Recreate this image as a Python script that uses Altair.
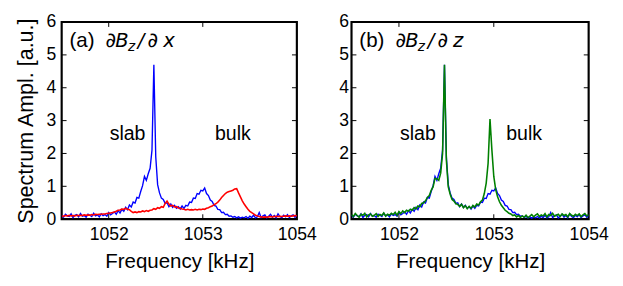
import altair as alt
import pandas as pd

# Frequency sampling grid (kHz), 0.02 kHz step
freq_khz = [round(1051.50 + 0.02 * i, 2) for i in range(126)]

# dBz/dx spectrum (blue) - also shown in panel (b)
blue_dx = [
    0.12, 0.06, 0.15, 0.10, 0.08, 0.16, 0.05, 0.12, 0.14, 0.07,
    0.17, 0.09, 0.11, 0.06, 0.15, 0.12, 0.08, 0.18, 0.10, 0.13,
    0.07, 0.16, 0.11, 0.14, 0.09, 0.20, 0.13, 0.17, 0.22, 0.15,
    0.26, 0.19, 0.30, 0.24, 0.36, 0.29, 0.43, 0.37, 0.52, 0.49,
    0.66, 0.64, 0.84, 1.02, 1.30, 1.18, 1.38, 1.55, 2.10, 4.70,
    1.90, 1.05, 0.80, 0.64, 0.60, 0.48, 0.50, 0.38, 0.46, 0.36,
    0.42, 0.33, 0.38, 0.31, 0.40, 0.33, 0.42, 0.40, 0.52, 0.51,
    0.64, 0.63, 0.78, 0.76, 0.88, 0.86, 0.95, 0.78, 0.72, 0.58,
    0.54, 0.42, 0.40, 0.30, 0.29, 0.20, 0.21, 0.14, 0.15, 0.09,
    0.10, 0.06, 0.08, 0.04, 0.07, 0.03, 0.06, 0.04, 0.08, 0.03,
    0.09, 0.05, 0.12, 0.04, 0.07, 0.20, 0.05, 0.10, 0.13, 0.04,
    0.09, 0.15, 0.06, 0.11, 0.04, 0.16, 0.08, 0.05, 0.12, 0.07,
    0.14, 0.05, 0.10, 0.13, 0.06, 0.11,
]

# second dBz/dx spectrum (red)
red_dx = [
    0.10, 0.09, 0.11, 0.10, 0.12, 0.10, 0.11, 0.10, 0.12, 0.11,
    0.12, 0.11, 0.13, 0.12, 0.13, 0.12, 0.14, 0.13, 0.15, 0.14,
    0.15, 0.15, 0.16, 0.16, 0.17, 0.18, 0.19, 0.20, 0.22, 0.24,
    0.27, 0.28, 0.31, 0.30, 0.33, 0.30, 0.29, 0.24, 0.20, 0.22,
    0.20, 0.23, 0.22, 0.25, 0.23, 0.26, 0.24, 0.27, 0.28, 0.32,
    0.30, 0.35, 0.33, 0.38, 0.36, 0.48, 0.55, 0.46, 0.40, 0.42,
    0.37, 0.38, 0.34, 0.33, 0.31, 0.30, 0.28, 0.30, 0.28, 0.29,
    0.28, 0.30, 0.28, 0.30, 0.29, 0.31, 0.30, 0.33, 0.35, 0.38,
    0.40, 0.44, 0.47, 0.52, 0.58, 0.66, 0.72, 0.78, 0.82, 0.84,
    0.86, 0.88, 0.92, 0.93, 0.80, 0.68, 0.56, 0.46, 0.38, 0.30,
    0.24, 0.20, 0.16, 0.12, 0.10, 0.08, 0.07, 0.06, 0.07, 0.06,
    0.07, 0.08, 0.07, 0.08, 0.09, 0.08, 0.09, 0.08, 0.09, 0.10,
    0.09, 0.10, 0.09, 0.10, 0.11, 0.10,
]

# dBz/dz spectrum (green)
green_dz = [
    0.14, 0.08, 0.17, 0.11, 0.06, 0.15, 0.12, 0.18, 0.07, 0.13,
    0.16, 0.09, 0.12, 0.17, 0.08, 0.14, 0.11, 0.19, 0.09, 0.15,
    0.12, 0.18, 0.14, 0.21, 0.12, 0.23, 0.17, 0.25, 0.20, 0.27,
    0.24, 0.30, 0.27, 0.35, 0.31, 0.40, 0.38, 0.48, 0.50, 0.56,
    0.66, 0.72, 0.88, 0.98, 1.24, 1.23, 1.18, 1.40, 2.00, 4.70,
    1.80, 0.98, 0.76, 0.60, 0.55, 0.47, 0.45, 0.39, 0.45, 0.35,
    0.41, 0.32, 0.39, 0.33, 0.42, 0.37, 0.46, 0.43, 0.53, 0.58,
    0.78, 1.10, 1.70, 3.05, 2.10, 1.30, 0.90, 0.68, 0.53, 0.42,
    0.35, 0.27, 0.23, 0.18, 0.16, 0.11, 0.13, 0.07, 0.11, 0.05,
    0.10, 0.06, 0.12, 0.05, 0.09, 0.14, 0.07, 0.12, 0.16, 0.08,
    0.13, 0.10, 0.17, 0.07, 0.14, 0.11, 0.18, 0.09, 0.12, 0.15,
    0.08, 0.16, 0.11, 0.14, 0.07, 0.17, 0.12, 0.09, 0.15, 0.11,
    0.16, 0.08, 0.13, 0.17, 0.10, 0.14,
]

x_ticks = [1052, 1053, 1054]
y_ticks = [0, 1, 2, 3, 4, 5, 6]
inner_x_ticks = [1052, 1053]
inner_y_ticks = [1, 2, 3, 4, 5]

annot_labels = ["slab", "bulk"]
annot_x = [1052.2, 1053.32]
annot_y = [2.4, 2.4]

FONT = "Liberation Sans"
MATH_FONT = "DejaVu Sans"
X_DOMAIN = [1051.5, 1054]
Y_DOMAIN = [0, 6]
H = 202


def series_df(vals):
    return pd.DataFrame({"f": freq_khz, "a": vals})


def panel(width, first, second, second_color, letter, var, ylabel_pad, show_ytitle):
    xsc = alt.Scale(domain=X_DOMAIN, nice=False, zero=False)
    ysc = alt.Scale(domain=Y_DOMAIN, nice=False)
    xax = alt.Axis(values=x_ticks, format="d", labelPadding=7, labelFlush=False,
                   labelOverlap=False, title="Frequency [kHz]", titlePadding=8,
                   ticks=False, domain=False, grid=False)
    yax = alt.Axis(values=y_ticks, format="d", labelPadding=ylabel_pad,
                   labelOverlap=False, titlePadding=9, titleFontSize=22,
                   ticks=False, domain=False, grid=False,
                   title="Spectrum Ampl. [a.u.]" if show_ytitle else "")

    def X(field):
        return alt.X(field, type="quantitative", scale=xsc, axis=xax)

    def Y(field):
        return alt.Y(field, type="quantitative", scale=ysc, axis=yax)

    base_line = alt.Chart(series_df(first)).mark_line(
        color="#0000ff", strokeWidth=1.4, clip=True
    ).encode(x=X("f"), y=Y("a"))
    top_line = alt.Chart(series_df(second)).mark_line(
        color=second_color, strokeWidth=1.6, clip=True
    ).encode(x=X("f"), y=Y("a"))

    xt = pd.DataFrame({"t": inner_x_ticks})
    yt = pd.DataFrame({"t": inner_y_ticks})
    tick_bottom = alt.Chart(xt).mark_rule(color="black", strokeWidth=1).encode(
        x=X("t"), y=alt.value(H), y2=alt.value(H - 5))
    tick_top = alt.Chart(xt).mark_rule(color="black", strokeWidth=1).encode(
        x=X("t"), y=alt.value(0), y2=alt.value(5))
    tick_left = alt.Chart(yt).mark_rule(color="black", strokeWidth=1).encode(
        y=Y("t"), x=alt.value(0), x2=alt.value(5))
    tick_right = alt.Chart(yt).mark_rule(color="black", strokeWidth=1).encode(
        y=Y("t"), x=alt.value(width - 5), x2=alt.value(width))

    ann = pd.DataFrame({"label": annot_labels, "x": annot_x, "y": annot_y})
    ann_text = alt.Chart(ann).mark_text(
        font=FONT, fontSize=20, color="black", align="center", baseline="alphabetic"
    ).encode(x=X("x"), y=Y("y"), text="label:N")

    # panel label "(a) dBz/dx" composed of pieces
    pieces = [
        (f"({letter})", 8, 26, 21, "normal", FONT),
        ("∂", 45, 26, 21, "italic", MATH_FONT),
        ("B", 55, 26, 20, "italic", MATH_FONT),
        ("z", 68, 30, 14, "italic", MATH_FONT),
        ("/", 78, 26, 20, "italic", MATH_FONT),
        ("∂", 88, 26, 21, "italic", MATH_FONT),
        (var, 104, 26, 20, "italic", MATH_FONT),
    ]
    label_layers = []
    for txt, px, py, fs, st, fnt in pieces:
        label_layers.append(
            alt.Chart(pd.DataFrame({"t": [txt]})).mark_text(
                font=fnt, fontSize=fs, fontStyle=st, color="black",
                align="left", baseline="alphabetic"
            ).encode(x=alt.value(px), y=alt.value(py), text="t:N")
        )

    return alt.layer(
        base_line, top_line, tick_bottom, tick_top, tick_left, tick_right,
        ann_text, *label_layers
    ).properties(width=width, height=H)


pa = panel(241, blue_dx, red_dx, "#ff0000", "a", "x", 6, True)
pb = panel(243, blue_dx, green_dz, "#008000", "b", "z", 3, False)

chart = alt.hconcat(pa, pb, spacing=19).properties(
    padding={"left": 5, "top": 0, "right": 5, "bottom": 5},
    background="white",
).configure_view(
    stroke="black", strokeWidth=2.2
).configure_axis(
    labelFont=FONT, titleFont=FONT, labelFontSize=18, titleFontSize=21,
    titleFontWeight="normal", labelColor="black", titleColor="black"
)

chart.save("out.html", embed_options={"renderer": "svg", "actions": False})
